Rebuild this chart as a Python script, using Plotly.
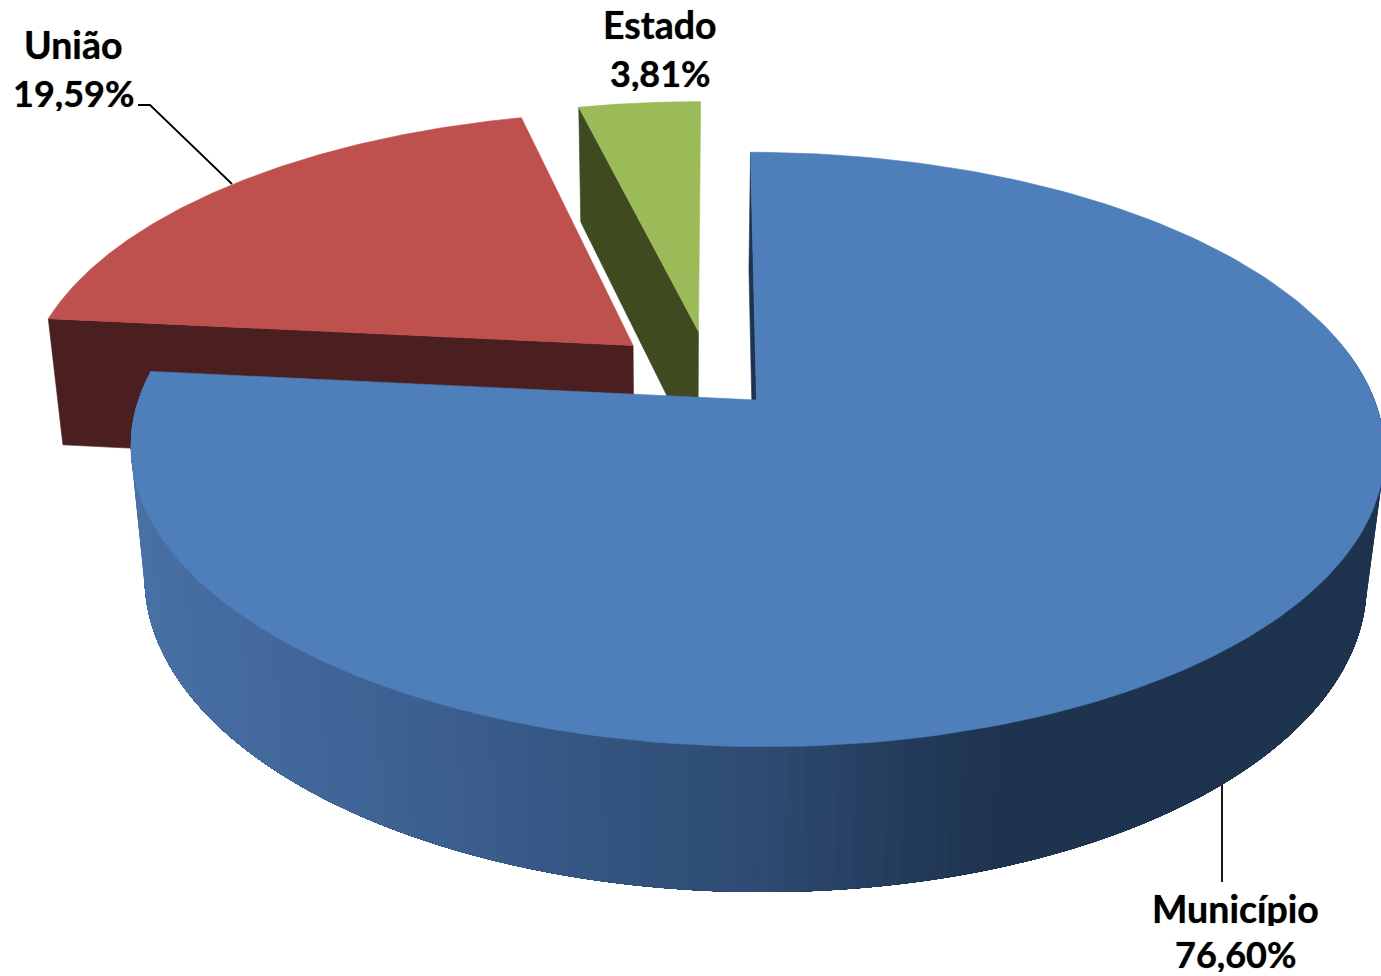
import numpy as np
import plotly.graph_objects as go

# Data
categories = ["Município", "União", "Estado"]
values = [76.60, 19.59, 3.81]

# Styles
top_colors = {"Município": "#4e7fba", "União": "#be504e", "Estado": "#9bbb59"}
wall_colors = {"Município": "#1e334e", "União": "#4b1f1f", "Estado": "#3f4a21"}
explode = {"Município": (0.0, 0.0), "União": (-0.204, 0.195), "Estado": (-0.095, 0.247)}

W, H = 1381, 976
X0, Y0 = 756.5, 400.0       # pie centre on the page
AX, AY = 618.0, 289.0       # radii on the top plane
K = 0.1664                  # perspective along depth of the disc
SKEW = -7.0
DEPTH_Y, DEPTH_X, DEPTH_W = 133.5, -2.0, 0.025
NAME_FONT = dict(family="Lato", size=37.5, color="#000000", shadow="0 0 1px rgba(0,0,0,0.7)")
PCT_FONT = dict(family="Lato", size=36, color="#000000", shadow="0 0 1px rgba(0,0,0,0.7)")


def project(x, y, z=0.0):
    w = 1 + K * y + DEPTH_W * z
    return X0 + (AX * x + SKEW * y + DEPTH_X * z) / w, Y0 + (-AY * y + DEPTH_Y * z) / w


def disc(theta, offset):
    t = np.radians(theta)
    return np.sin(t) + offset[0], np.cos(t) + offset[1]


def poly(xs, ys, color, name, line_width=0.6):
    return go.Scatter(x=list(xs) + [xs[0]], y=list(ys) + [ys[0]], mode="lines", fill="toself",
                      fillcolor=color, line=dict(color=color, width=line_width),
                      hoverinfo="skip", showlegend=False, name=name)


def wall_shade(sx):
    stops_x = [140, 400, 750, 1000, 1400]
    r = np.interp(sx, stops_x, [72, 62, 46, 30, 30])
    g = np.interp(sx, stops_x, [113, 98, 76, 51, 51])
    b = np.interp(sx, stops_x, [166, 148, 116, 78, 78])
    return f"rgb({r:.0f},{g:.0f},{b:.0f})"


# Slice angles from the values, clockwise from the top
total = sum(values)
edges = np.concatenate([[0.0], np.cumsum(values) / total * 360.0])
spans = {c: (edges[i], edges[i + 1]) for i, c in enumerate(categories)}

fig = go.Figure()


def cut_face(cat, theta):
    off = explode[cat]
    rx, ry = disc(theta, off)
    pts = [project(off[0], off[1]), project(rx, ry), project(rx, ry, 1), project(off[0], off[1], 1)]
    fig.add_trace(poly([p[0] for p in pts], [p[1] for p in pts], wall_colors[cat], cat + " wall"))


def top_face(cat):
    a, b = spans[cat]
    off = explode[cat]
    th = np.linspace(a, b, 200)
    dx, dy = disc(th, off)
    sx, sy = project(dx, dy)
    ax, ay = project(off[0], off[1])
    fig.add_trace(poly([ax] + sx.tolist(), [ay] + sy.tolist(), top_colors[cat], cat))


# Back slices first
cut_face("Estado", spans["Estado"][0])
top_face("Estado")
cut_face("União", spans["União"][0])
top_face("União")

# Front slice: cut face, shaded outer wall (each band runs under the next), top
cut_face("Município", spans["Município"][0])
a_m, b_m = spans["Município"]
steps = np.linspace(78, b_m, 151)
for t0 in steps[:-1]:
    band = np.linspace(t0, b_m, 60)
    dx, dy = disc(band, explode["Município"])
    sx, sy = project(dx, dy)
    bx, by = project(dx, dy, 1)
    xs = sx.tolist() + bx.tolist()[::-1]
    ys = sy.tolist() + by.tolist()[::-1]
    fig.add_trace(poly(xs, ys, wall_shade(bx[0]), "Município side", line_width=0))
top_face("Município")

# Leader lines
for lx, ly in (([138, 150, 232], [105, 105, 184]), ([1222, 1222], [785, 882])):
    fig.add_trace(go.Scatter(x=lx, y=ly, mode="lines", line=dict(color="#000000", width=1.8),
                             hoverinfo="skip", showlegend=False))

# Labels: centre x, name y, percentage y
label_pos = {"Município": (1235, 908, 954), "União": (73, 44, 93), "Estado": (660, 24, 73)}
annotations = []
for c, v in zip(categories, values):
    lx, ly_name, ly_pct = label_pos[c]
    pct = f"{v:.2f}%".replace(".", ",")
    for txt, ly, font in ((c, ly_name, NAME_FONT), (pct, ly_pct, PCT_FONT)):
        annotations.append(dict(x=lx, y=ly, text=f"<b>{txt}</b>", showarrow=False,
                                height=36, xref="x", yref="y", xanchor="center", yanchor="middle",
                                font=font))

fig.update_layout(
    width=W, height=H, autosize=False,
    margin=dict(l=0, r=0, t=0, b=0),
    paper_bgcolor="#ffffff", plot_bgcolor="#ffffff",
    showlegend=False, annotations=annotations,
    xaxis=dict(range=[0, W], visible=False, fixedrange=True),
    yaxis=dict(range=[H, 0], visible=False, fixedrange=True),
)
fig.write_html("out.html", post_script="document.body.style.margin='0';",
               config=dict(displayModeBar=False))
